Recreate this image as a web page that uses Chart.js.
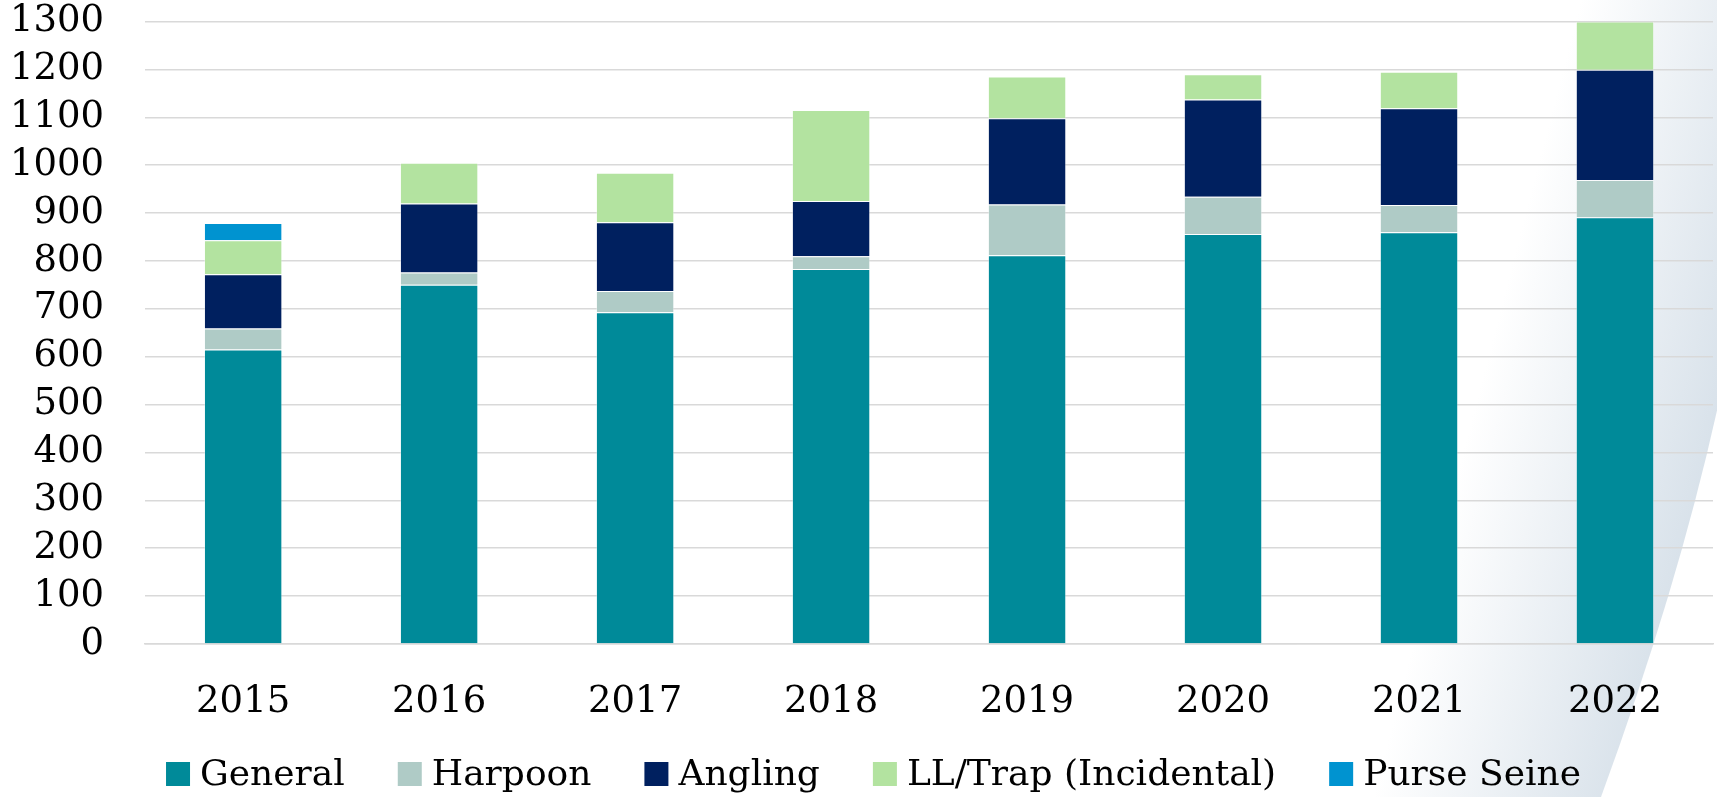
<!DOCTYPE html>
<html lang="en">
<head>
    <meta charset="UTF-8">
    <title>Catch by gear type</title>
    <style>
        html, body {
            margin: 0;
            padding: 0;
            background: #ffffff;
        }
        #wrap {
            width: 1717px;
            height: 797px;
        }
    </style>
</head>
<body>
    <div id="wrap">
        <canvas id="gearChart" width="1717" height="797"></canvas>
    </div>

    <script src="https://cdn.jsdelivr.net/npm/chart.js"></script>

    <script>
        // data
        const years = ["2015", "2016", "2017", "2018", "2019", "2020", "2021", "2022"];
        const general = [615, 750, 693, 783, 812, 856, 860, 891];
        const harpoon = [44, 26, 44, 27, 106, 78, 57, 78];
        const angling = [113, 144, 144, 115, 180, 203, 202, 230];
        const llTrap = [71, 85, 103, 190, 87, 53, 76, 101];
        const purseSeine = [36, 0, 0, 0, 0, 0, 0, 0];

        const fontFamily = "'DejaVu Serif', 'Liberation Serif', serif";

        // light swoosh in the lower right corner
        const swoosh = {
            id: "swoosh",
            beforeDraw(chart) {
                const c = chart.ctx;
                const w = chart.width;
                const h = chart.height;
                c.save();
                const g = c.createLinearGradient(w - 240, h * 0.5, w + 5, h * 0.58);
                g.addColorStop(0, "rgba(255,255,255,1)");
                g.addColorStop(1, "#d6e0e9");
                c.beginPath();
                c.moveTo(w - 420, 0);
                c.lineTo(w, 0);
                c.lineTo(w, h * 0.515);
                c.quadraticCurveTo(w - 40, h * 0.74, w - 116, h);
                c.lineTo(w - 420, h);
                c.closePath();
                c.fillStyle = g;
                c.fill();
                c.restore();
            }
        };

        // legend row under the axis, spaced like the original
        const bottomLegend = {
            id: "bottomLegend",
            afterDraw(chart) {
                const c = chart.ctx;
                const box = 24, gapText = 10, gapItem = 53;
                c.save();
                c.font = "36px " + fontFamily;
                c.textBaseline = "middle";
                const items = chart.data.datasets.map(ds => ({
                    label: ds.label,
                    color: ds.backgroundColor,
                    w: c.measureText(ds.label).width
                }));
                let total = 0;
                items.forEach((it, i) => {
                    total += box + gapText + it.w + (i > 0 ? gapItem : 0);
                });
                let x = chart.width / 2 + 15 - total / 2;
                const yMid = chart.height - 23;
                items.forEach(it => {
                    c.fillStyle = it.color;
                    c.fillRect(x, yMid - box / 2, box, box);
                    c.fillStyle = "#000000";
                    c.fillText(it.label, x + box + gapText, yMid + 2);
                    x += box + gapText + it.w + gapItem;
                });
                c.restore();
            }
        };

        function serie(label, data, color) {
            return {
                label: label,
                data: data,
                backgroundColor: color,
                borderColor: "rgba(255,255,255,0.35)",
                borderWidth: 1,
                categoryPercentage: 0.8,
                barPercentage: 0.5
            };
        }

        const ctx = document.getElementById("gearChart").getContext("2d");
        new Chart(ctx, {
            type: "bar",
            data: {
                labels: years,
                datasets: [
                    serie("General", general, "#008a99"),
                    serie("Harpoon", harpoon, "#afcbc6"),
                    serie("Angling", angling, "#00205f"),
                    serie("LL/Trap (Incidental)", llTrap, "#b3e3a0"),
                    serie("Purse Seine", purseSeine, "#0093d0")
                ]
            },
            options: {
                responsive: false,
                animation: false,
                devicePixelRatio: 1,
                layout: {
                    padding: { top: 0, right: 4, left: 7, bottom: 36 }
                },
                plugins: {
                    tooltip: { enabled: false },
                    legend: { display: false }
                },
                scales: {
                    x: {
                        stacked: true,
                        grid: { display: false, drawTicks: false },
                        border: { display: true, color: "#d9d9d9", width: 1.5 },
                        ticks: {
                            font: { family: fontFamily, size: 37, lineHeight: 1 },
                            color: "#000000",
                            padding: 40
                        }
                    },
                    y: {
                        stacked: true,
                        min: 0,
                        max: 1300,
                        grid: {
                            color: "#d9d9d9",
                            lineWidth: 1.5,
                            drawTicks: true,
                            tickLength: 38,
                            tickColor: "rgba(0,0,0,0)"
                        },
                        border: { display: false },
                        ticks: {
                            stepSize: 100,
                            autoSkip: false,
                            font: { family: fontFamily, size: 37, lineHeight: 1 },
                            color: "#000000",
                            padding: 3,
                            callback: function(value) {
                                return String(value);
                            }
                        }
                    }
                }
            },
            plugins: [swoosh, bottomLegend]
        });
    </script>
</body>
</html>
